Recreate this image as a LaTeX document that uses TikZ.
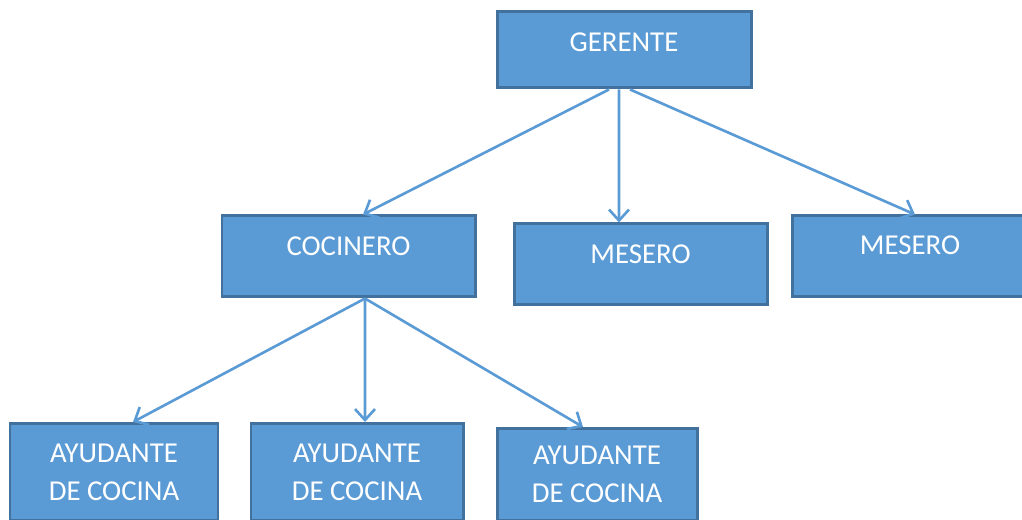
\documentclass[tikz,border=0pt]{standalone}
\usepackage{fontspec}
\setmainfont{Carlito}
\usepackage{tikz}
\usetikzlibrary{arrows.meta}

\definecolor{azul}{HTML}{5B9BD5}
\definecolor{bordeazul}{HTML}{41719C}

\tikzset{
    caja/.style={draw=bordeazul, fill=azul, text=white, line width=0.85pt, inner sep=0pt, align=center},
    arriba/.style={text height=0.184cm, text depth=#1},
    flecha/.style={draw=azul, line width=0.75pt, -{Straight Barb[length=1.1mm, width=2mm]}}
}

\begin{document}
\begin{tikzpicture}[font=\fontsize{8.2}{10.8}\selectfont]
        \useasboundingbox (0,0) rectangle (10.22,5.20);

        % Gerente
        \node[caja, arriba=0.16cm, minimum width=2.54cm, minimum height=0.76cm] (ger) at (6.24,4.70) {GERENTE};

        % Segundo nivel
        \node[caja, arriba=0.21cm, minimum width=2.53cm, minimum height=0.81cm] (coc) at (3.485,2.635) {COCINERO};
        \node[caja, arriba=0.21cm, minimum width=2.53cm, minimum height=0.81cm] (mes1) at (6.405,2.555) {MESERO};
        \node[caja, arriba=0.22cm, minimum width=2.36cm, minimum height=0.81cm] (mes2) at (9.10,2.635) {MESERO};

        % Ayudantes
        \node[caja, minimum width=2.08cm, minimum height=0.97cm] (ayu1) at (1.14,0.48) {AYUDANTE\\DE COCINA};
        \node[caja, minimum width=2.12cm, minimum height=0.97cm] (ayu2) at (3.57,0.48) {AYUDANTE\\DE COCINA};
        \node[caja, minimum width=2.00cm, minimum height=0.92cm] (ayu3) at (5.97,0.455) {AYUDANTE\\DE COCINA};

        % Flechas
        \draw[flecha] ([xshift=-0.15cm]ger.south) -- ([xshift=0.145cm]coc.north);
        \draw[flecha] ([xshift=-0.05cm]ger.south) -- ([xshift=-0.215cm]mes1.north);
        \draw[flecha] ([xshift=0.06cm]ger.south) -- ([xshift=0.05cm]mes2.north);
        \draw[flecha] ([xshift=0.165cm]coc.south) -- ([xshift=0.19cm]ayu1.north);
        \draw[flecha] ([xshift=0.165cm]coc.south) -- ([xshift=0.08cm]ayu2.north);
        \draw[flecha] ([xshift=0.165cm]coc.south) -- ([xshift=-0.14cm]ayu3.north);
    \end{tikzpicture}
\end{document}
